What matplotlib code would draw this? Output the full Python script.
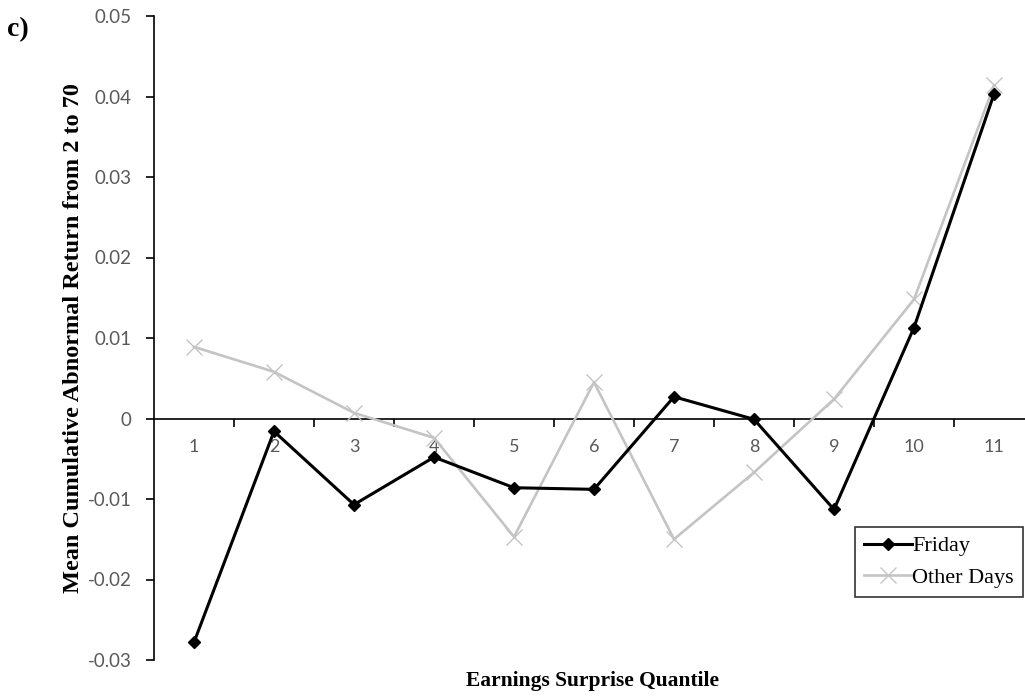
import matplotlib
matplotlib.use("Agg")
import matplotlib.pyplot as plt
from matplotlib.ticker import FixedLocator, FuncFormatter

# mean CAR (days 2-70) by earnings surprise quantile
quantiles = [1, 2, 3, 4, 5, 6, 7, 8, 9, 10, 11]
friday = [-0.0278, -0.0016, -0.0107, -0.0048, -0.0086, -0.0088,
          0.0027, -0.0001, -0.0113, 0.0113, 0.0403]
other_days = [0.0089, 0.0058, 0.0007, -0.0024, -0.0147, 0.0045,
              -0.0150, -0.0067, 0.0024, 0.0148, 0.0414]
y_ticks = [-0.03, -0.02, -0.01, 0, 0.01, 0.02, 0.03, 0.04, 0.05]

serif = "Liberation Serif"
tick_font = ["Liberation Sans Narrow", "Lato"]
tick_grey = "#595959"

fig = plt.figure(figsize=(10.25, 6.96), dpi=100)
ax = fig.add_axes([154 / 1025, 36 / 696, 880 / 1025, 644 / 696])

ax.plot(quantiles, other_days, color="#c4c4c4", lw=1.9, marker="x",
        ms=11, mew=1.0, label="Other Days", zorder=3)
ax.plot(quantiles, friday, color="black", lw=2.2, marker="D",
        ms=6.5, label="Friday", zorder=4)

ax.set_xlim(0.5, 11.5)
ax.set_ylim(-0.03, 0.05)

# category axis crosses at zero
ax.spines["top"].set_visible(False)
ax.spines["right"].set_visible(False)
ax.spines["bottom"].set_position(("data", 0))
ax.spines["bottom"].set_linewidth(1.2)
ax.spines["left"].set_linewidth(1.2)

ax.xaxis.set_major_locator(FixedLocator(quantiles))
ax.xaxis.set_minor_locator(FixedLocator([q + 0.5 for q in quantiles]))
ax.tick_params(axis="x", which="major", length=0, pad=15,
               labelsize=13, labelcolor=tick_grey)
ax.tick_params(axis="x", which="minor", length=6, width=1.2, direction="out")
for lab in ax.get_xticklabels():
    lab.set_family(tick_font)

ax.yaxis.set_major_locator(FixedLocator(y_ticks))
ax.yaxis.set_major_formatter(FuncFormatter(lambda v, p: "0" if abs(v) < 1e-9 else f"{v:.2f}"))
ax.tick_params(axis="y", length=6, width=1.2, direction="out", pad=10,
               labelsize=13.5, labelcolor=tick_grey)
for lab in ax.get_yticklabels():
    lab.set_family(tick_font)

fig.text(74 / 1025, 1 - 338 / 696, "Mean Cumulative Abnormal Return from 2 to 70",
         rotation=90, ha="center", va="center", family=serif,
         fontweight="bold", fontsize=17.5)
fig.text(593 / 1025, 1 - 681 / 696, "Earnings Surprise Quantile",
         ha="center", va="center", family=serif, fontweight="bold", fontsize=15.5)
fig.text(7 / 1025, 1 - 30 / 696, "c)", ha="left", va="center",
         family=serif, fontweight="bold", fontsize=20)

handles, labels = ax.get_legend_handles_labels()
leg = ax.legend(handles[::-1], labels[::-1], loc="upper right",
                bbox_to_anchor=(1023 / 1025, 1 - 527 / 696),
                bbox_transform=fig.transFigure, frameon=True, fancybox=False,
                edgecolor="black", handlelength=2.2, handletextpad=0.0,
                borderpad=0.4, labelspacing=0.5, borderaxespad=0,
                prop={"family": serif, "size": 16})
leg.get_frame().set_linewidth(1.2)

fig.savefig("out.png", dpi=100)
